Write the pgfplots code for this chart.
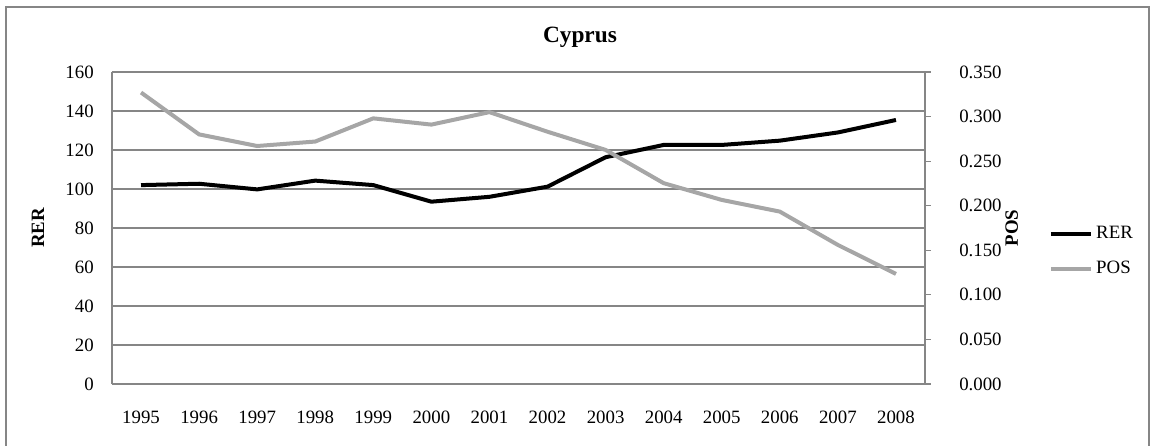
\documentclass[border=0pt]{standalone}
\usepackage{fontspec}
\setmainfont{Liberation Serif}
\usepackage{pgfplots}
\pgfplotsset{compat=1.18}
\definecolor{gridc}{RGB}{134,134,134}
\definecolor{posc}{RGB}{166,166,166}
\begin{document}
\fontsize{11.3}{13.6}\selectfont
\begin{tikzpicture}
\begin{axis}[name=main, scale only axis, width=487.8pt, height=187.2pt,
  xmin=-0.5, xmax=13.5, ymin=0, ymax=160,
  axis x line*=bottom, axis y line*=left,
  axis line style={gridc, line width=0.75pt, -},
  xtick={0,...,13},
  xticklabels={1995,1996,1997,1998,1999,2000,2001,2002,2003,2004,2005,2006,2007,2008},
  ytick={0,20,40,60,80,100,120,140,160},
  ymajorgrids, grid style={gridc, line width=0.75pt},
  major tick length=0pt,
  /pgf/number format/assume math mode=true,
  yticklabel style={xshift=-7pt},
  xticklabel style={yshift=-12pt},
  ylabel={\textbf{RER}},
  ylabel style={at={(axis description cs:-0.091,0.5)}, anchor=center},
  every axis title shift=0pt,
  title={\fontsize{14}{16}\selectfont\textbf{Cyprus}},
  title style={at={(axis description cs:0.5756,1.093)}, anchor=base},
  legend style={at={(axis description cs:1.152,0.425)}, anchor=west, draw=none, fill=none, row sep=8pt, inner sep=0pt},
  legend cell align=left,
  legend image code/.code={\draw[#1] (0pt,0pt) -- (24pt,0pt);},
]
\addplot[black, line width=2.4pt] coordinates {
 (0,102.0) (1,102.7) (2,99.8) (3,104.3) (4,102.0) (5,93.5) (6,96.0)
 (7,101.2) (8,116.3) (9,122.6) (10,122.6) (11,124.8) (12,129.0) (13,135.4)};
\addlegendentry{RER}
\addlegendimage{posc, line width=2.4pt}
\addlegendentry{POS}
\end{axis}
\begin{axis}[scale only axis, width=487.8pt, height=187.2pt,
  xmin=-0.5, xmax=13.5, ymin=0, ymax=0.35,
  axis y line*=right, axis x line=none,
  axis line style={gridc, line width=0.75pt, -},
  ytick={0,0.05,0.1,0.15,0.2,0.25,0.3,0.35},
  yticklabel={\pgfmathprintnumber[fixed,fixed zerofill,precision=3]{\tick}},
  /pgf/number format/assume math mode=true,
  tick align=outside, major tick length=3.6pt,
  tick style={gridc, line width=0.75pt},
  yticklabel style={xshift=13pt},
  ylabel={\textbf{POS}},
  ylabel style={at={(axis description cs:1.1066,0.5)}, anchor=center},
]
\addplot[posc, line width=2.4pt] coordinates {
 (0,0.327) (1,0.280) (2,0.267) (3,0.272) (4,0.298) (5,0.291) (6,0.305)
 (7,0.283) (8,0.2626) (9,0.2253) (10,0.2065) (11,0.1934) (12,0.156) (13,0.1235)};
\end{axis}
\begin{scope}[shift={(main.south west)}, x=0.6pt, y=0.6pt]
\draw[gridc, line width=0.75pt] (-106,-70) -- (-106,377) -- (1037,377) -- (1037,-70);
\pgfresetboundingbox
\path (-112,-61) rectangle (1039,384);
\end{scope}
\end{tikzpicture}
\end{document}
